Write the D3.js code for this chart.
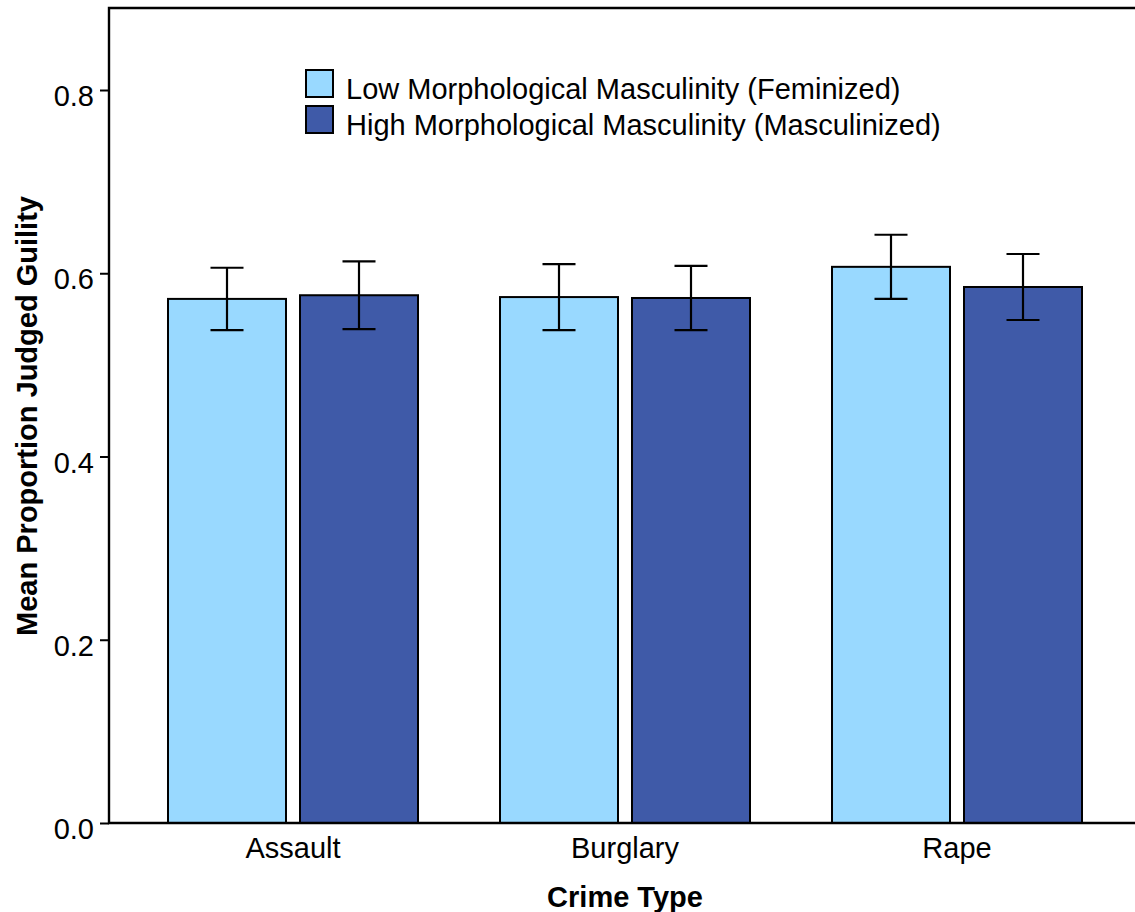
<!DOCTYPE html>
<html>
<head>
<meta charset="utf-8">
<script src="https://cdn.jsdelivr.net/npm/d3@7"></script>
<style>
  body { margin: 0; background: #fff; }
  svg text { font-family: "Liberation Sans", Arial, sans-serif; fill: #000; }
</style>
</head>
<body>
<svg class="chart" width="1135" height="912"></svg>
<script>
// data
var crimes = ["Assault", "Burglary", "Rape"];
var seriesNames = ["Low Morphological Masculinity (Feminized)", "High Morphological Masculinity (Masculinized)"];
var lowMeans = [0.572, 0.574, 0.607];
var lowErr = [0.034, 0.036, 0.035];
var highMeans = [0.576, 0.573, 0.585];
var highErr = [0.037, 0.035, 0.036];
var yTicks = [0.0, 0.2, 0.4, 0.6, 0.8];

var colors = ["#99d9ff", "#3f5aa8"];

var svg = d3.select("svg.chart");
var plotL = 109, plotT = 8, plotR = 1135, plotB = 823;

var y = d3.scaleLinear().domain([0, 0.8]).range([plotB, 90]);
var x0 = d3.scaleBand().domain(crimes).range([127, 1123])
    .paddingInner(82 / 332).paddingOuter(41 / 332);
var x1 = d3.scaleBand().domain([0, 1]).range([0, x0.bandwidth()])
    .paddingInner(14 / 132).paddingOuter(0);

var rows = crimes.map(function(c, i) {
  return {crime: c, vals: [
    {s: 0, mean: lowMeans[i], err: lowErr[i]},
    {s: 1, mean: highMeans[i], err: highErr[i]}
  ]};
});

// bars
var grp = svg.selectAll("g.crime").data(rows).enter().append("g")
    .attr("class", "crime")
    .attr("transform", function(d) { return "translate(" + x0(d.crime) + ",0)"; });

grp.selectAll("rect").data(function(d) { return d.vals; }).enter().append("rect")
    .attr("x", function(d) { return x1(d.s); })
    .attr("y", function(d) { return y(d.mean); })
    .attr("width", x1.bandwidth())
    .attr("height", function(d) { return plotB - y(d.mean); })
    .attr("fill", function(d) { return colors[d.s]; })
    .attr("stroke", "#000")
    .attr("stroke-width", 2);

// error bars
var eb = grp.selectAll("g.err").data(function(d) { return d.vals; }).enter().append("g")
    .attr("class", "err")
    .attr("stroke", "#000").attr("stroke-width", 2.2);
var cx = function(d) { return x1(d.s) + x1.bandwidth() / 2; };
eb.append("line")
    .attr("x1", cx).attr("x2", cx)
    .attr("y1", function(d) { return y(d.mean + d.err); })
    .attr("y2", function(d) { return y(d.mean - d.err); });
eb.append("line")
    .attr("x1", function(d) { return cx(d) - 16.5; }).attr("x2", function(d) { return cx(d) + 16.5; })
    .attr("y1", function(d) { return y(d.mean + d.err); })
    .attr("y2", function(d) { return y(d.mean + d.err); });
eb.append("line")
    .attr("x1", function(d) { return cx(d) - 16.5; }).attr("x2", function(d) { return cx(d) + 16.5; })
    .attr("y1", function(d) { return y(d.mean - d.err); })
    .attr("y2", function(d) { return y(d.mean - d.err); });

// y axis
var yAxis = svg.append("g")
    .attr("transform", "translate(" + plotL + ",0)")
    .call(d3.axisLeft(y).tickValues(yTicks).tickFormat(d3.format(".1f")).tickSize(9).tickSizeOuter(0));
yAxis.select(".domain").remove();
yAxis.selectAll(".tick line").attr("stroke", "#000").attr("stroke-width", 2);
yAxis.selectAll(".tick text").attr("x", -15).attr("dy", 15.5)
    .style("font-size", "29px");

// x axis
var xAxis = svg.append("g")
    .attr("transform", "translate(0," + plotB + ")")
    .call(d3.axisBottom(x0).tickSize(0));
xAxis.select(".domain").remove();
xAxis.selectAll(".tick text").attr("y", 35).attr("dy", 0)
    .style("font-size", "29px");

// frame lines (left, top, bottom)
svg.append("path")
    .attr("d", "M" + plotR + "," + plotT + "H" + plotL + "V" + plotB + "H" + plotR)
    .attr("fill", "none").attr("stroke", "#000").attr("stroke-width", 2.4);

// axis titles
svg.append("text")
    .attr("transform", "translate(37,416) rotate(-90)")
    .attr("text-anchor", "middle")
    .style("font-size", "29px").style("font-weight", "bold")
    .text("Mean Proportion Judged Guility");
svg.append("text")
    .attr("x", 625).attr("y", 907)
    .attr("text-anchor", "middle")
    .style("font-size", "29px").style("font-weight", "bold")
    .text("Crime Type");

// legend
var leg = svg.append("g").attr("transform", "translate(306,70)");
var li = leg.selectAll("g").data(seriesNames).enter().append("g")
    .attr("transform", function(d, i) { return "translate(0," + (i * 36) + ")"; });
li.append("rect")
    .attr("width", 27).attr("height", 27)
    .attr("fill", function(d, i) { return colors[i]; })
    .attr("stroke", "#000").attr("stroke-width", 2);
li.append("text")
    .attr("x", 40).attr("y", 29)
    .style("font-size", "29px")
    .text(function(d) { return d; });
</script>
</body>
</html>
